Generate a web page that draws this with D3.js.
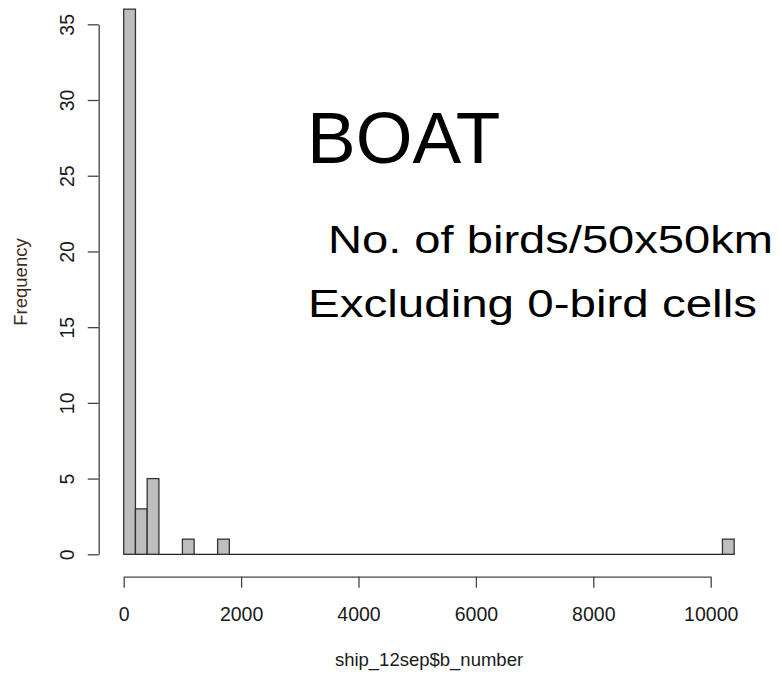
<!DOCTYPE html>
<html>
<head>
<meta charset="utf-8">
<script src="https://cdn.jsdelivr.net/npm/d3@7"></script>
<style>
  html, body { margin: 0; padding: 0; background: #fff; }
  svg { display: block; font-family: "Liberation Sans", Arial, Helvetica, sans-serif; }
</style>
</head>
<body>
<svg id="chart" width="782" height="674"></svg>
<script>
// Histogram of bird counts per 50x50 km cell (bins of 200 birds)
const binWidth = 200;
const binStart = [0, 200, 400, 1000, 1600, 10200];
const binCount = [36, 3, 5, 1, 1, 1];
const dataRange = [0, 10400];          // full span of the breaks (empty bins sit on the baseline)
const xTicks = [0, 2000, 4000, 6000, 8000, 10000];
const yTicks = [0, 5, 10, 15, 20, 25, 30, 35];

const xLabel = "ship_12sep$b_number";
const yLabel = "Frequency";
const title = "BOAT";
const note1 = "No. of birds/50x50km";
const note2 = "Excluding 0-bird cells";

const svg = d3.select("#chart");

const x = d3.scaleLinear().domain([0, 10000]).range([123.7, 710.7]);
const y = d3.scaleLinear().domain([0, 35]).range([554.3, 24.3]);

const bins = binStart.map((s, i) => ({ x0: s, x1: s + binWidth, n: binCount[i] }));

// baseline formed by the empty bins
svg.append("line")
  .attr("x1", x(dataRange[0])).attr("x2", x(dataRange[1]))
  .attr("y1", y(0)).attr("y2", y(0))
  .attr("stroke", "#222").attr("stroke-width", 1.3);

// bars
svg.append("g").selectAll("rect")
  .data(bins)
  .join("rect")
  .attr("x", d => x(d.x0))
  .attr("y", d => y(d.n))
  .attr("width", d => x(d.x1) - x(d.x0))
  .attr("height", d => y(0) - y(d.n))
  .attr("fill", "#bebebe")
  .attr("stroke", "#333")
  .attr("stroke-width", 1.3);

// x axis
const xAxis = svg.append("g")
  .attr("transform", "translate(0,576.7)")
  .call(d3.axisBottom(x).tickValues(xTicks).tickFormat(d3.format("d"))
    .tickSize(11).tickSizeOuter(0).tickPadding(19));
xAxis.selectAll("path, line").attr("stroke", "#444").attr("stroke-width", 1.3);
xAxis.selectAll("text")
  .attr("font-size", 19.5)
  .attr("fill", "#1a1a1a")
  .attr("font-family", "Liberation Sans, Arial, sans-serif");

// y axis, labels parallel to the axis
const yAxis = svg.append("g")
  .attr("transform", "translate(98.7,0)")
  .call(d3.axisLeft(y).tickValues(yTicks).tickSize(11).tickSizeOuter(0));
yAxis.selectAll("path, line").attr("stroke", "#444").attr("stroke-width", 1.3);
yAxis.selectAll("text")
  .attr("transform", "rotate(-90)")
  .attr("x", 0)
  .attr("y", -25)
  .attr("dy", 0)
  .attr("text-anchor", "middle")
  .attr("font-size", 19.5)
  .attr("fill", "#1a1a1a")
  .attr("font-family", "Liberation Sans, Arial, sans-serif");

// axis titles
svg.append("text")
  .attr("x", 429).attr("y", 666)
  .attr("text-anchor", "middle")
  .attr("font-size", 18.5)
  .attr("fill", "#1a1a1a")
  .text(xLabel);

svg.append("text")
  .attr("transform", "translate(27,282) rotate(-90)")
  .attr("text-anchor", "middle")
  .attr("font-size", 18.5)
  .attr("fill", "#3f2a22")
  .text(yLabel);

// annotations
svg.append("text")
  .attr("x", 307).attr("y", 163)
  .attr("font-size", 73)
  .attr("fill", "#000")
  .text(title);

svg.append("text")
  .attr("x", 328).attr("y", 253)
  .attr("font-size", 38.5)
  .attr("fill", "#000")
  .attr("textLength", 445)
  .attr("lengthAdjust", "spacingAndGlyphs")
  .text(note1);

svg.append("text")
  .attr("x", 308).attr("y", 317)
  .attr("font-size", 38.5)
  .attr("fill", "#000")
  .attr("textLength", 449)
  .attr("lengthAdjust", "spacingAndGlyphs")
  .text(note2);
</script>
</body>
</html>
